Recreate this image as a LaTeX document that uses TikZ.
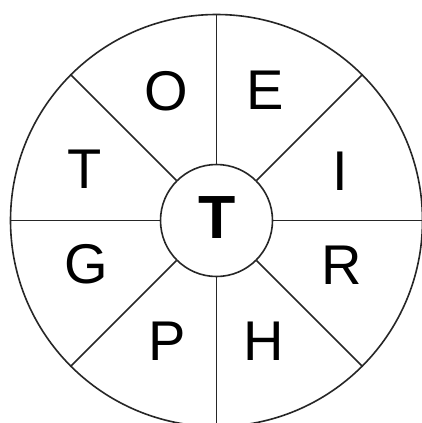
\documentclass[tikz,border=0pt]{standalone}
\usepackage{fontspec}
\setmainfont{Liberation Sans}
\begin{document}
\begin{tikzpicture}[x=1pt,y=-1pt,
  ring/.style={circle,draw=black!85,line width=1.6pt,inner sep=0pt},
  spoke/.style={draw=black!85,line width=1.6pt},
  letter/.style={inner sep=0pt,font=\fontsize{56}{56}\selectfont},
  hub/.style={inner sep=0pt,font=\fontsize{61}{61}\selectfont\bfseries}]
\useasboundingbox[fill=white] (0,0) rectangle (422,423);
\node[ring,minimum size=412pt] (outer) at (216.5,220.5) {};
\node[ring,minimum size=112pt] (inner) at (216.5,220.5) {};
\foreach \a in {0,45,...,315}{
  \draw[spoke] (inner.\a) -- (outer.\a);
}
\node[hub] (c) at (217,217.5) {T};
\node[letter] (o) at (166.7,91) {O};
\node[letter] (e) at (265,90.5) {E};
\node[letter] (t) at (85,169) {T};
\node[letter] (i) at (340.7,171) {I};
\node[letter] (g) at (86,264) {G};
\node[letter] (r) at (342,265) {R};
\node[letter] (p) at (166.7,341.7) {P};
\node[letter] (h) at (264,341.7) {H};
\end{tikzpicture}
\end{document}
